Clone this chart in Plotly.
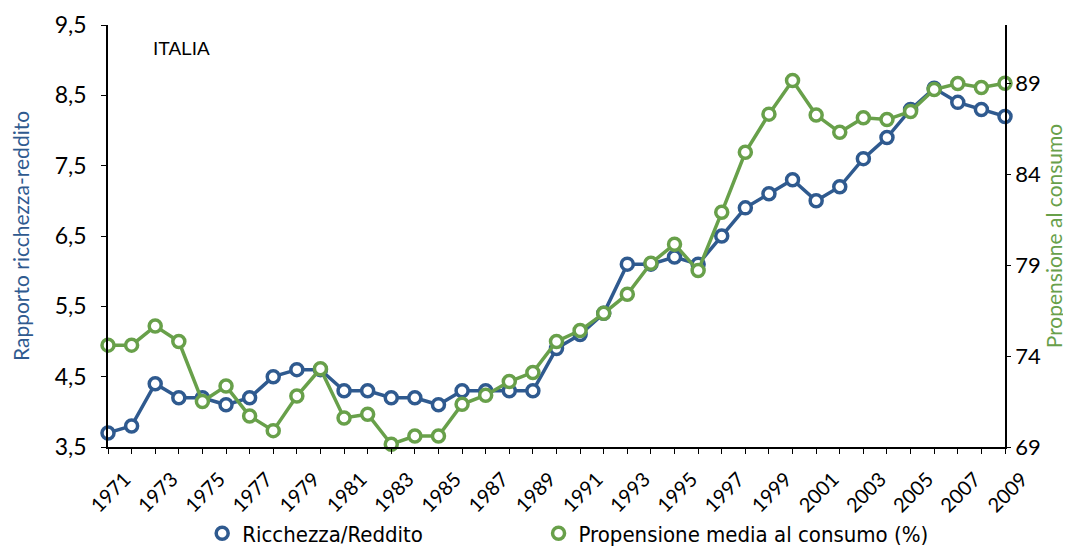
import plotly.graph_objects as go

# Dati
anni = list(range(1971, 2010))

ricchezza_reddito = [3.7, 3.8, 4.4, 4.2, 4.2, 4.1, 4.2, 4.5, 4.6, 4.6,
                     4.3, 4.3, 4.2, 4.2, 4.1, 4.3, 4.3, 4.3, 4.3, 4.9,
                     5.1, 5.4, 6.1, 6.1, 6.2, 6.1, 6.5, 6.9, 7.1, 7.3,
                     7.0, 7.2, 7.6, 7.9, 8.3, 8.6, 8.4, 8.3, 8.2]

propensione = [74.6, 74.6, 75.65, 74.8, 71.5, 72.35, 70.7, 69.9, 71.8, 73.3,
               70.6, 70.8, 69.15, 69.6, 69.6, 71.35, 71.85, 72.6, 73.1, 74.8,
               75.4, 76.35, 77.4, 79.1, 80.15, 78.7, 81.9, 85.2, 87.3, 89.15,
               87.25, 86.3, 87.1, 87.0, 87.45, 88.65, 88.98, 88.76, 89.0]

anni_tick = list(range(1971, 2010, 2))
y1_tick = [3.5, 4.5, 5.5, 6.5, 7.5, 8.5, 9.5]
y2_tick = [69, 74, 79, 84, 89]

BLU = "#2F5A8F"
VERDE = "#68A04A"
FONT = "Lato, 'Open Sans', sans-serif"
FONT_LEG = "'DejaVu Sans Condensed', 'DejaVu Sans', sans-serif"

fig = go.Figure()

serie = [
    ("Ricchezza/Reddito", ricchezza_reddito, BLU, "y", "legend"),
    ("Propensione media al consumo (%)", propensione, VERDE, "y2", "legend2"),
]

for nome, valori, colore, asse, leg in serie:
    marker = dict(symbol="circle", size=12, color="white", line=dict(color=colore, width=3.5))
    fig.add_trace(go.Scatter(
        x=anni, y=valori,
        name=nome,
        mode="lines+markers",
        yaxis=asse,
        line=dict(color=colore, width=3.5),
        marker=marker,
        cliponaxis=False,
        showlegend=False,
    ))
    # voce di legenda solo con il marcatore, come nell'originale
    fig.add_trace(go.Scatter(
        x=[None], y=[None],
        name=nome,
        mode="markers",
        yaxis=asse,
        marker=marker,
        legend=leg,
    ))

fig.add_annotation(
    text="ITALIA", xref="paper", yref="paper", x=0.048, y=0.945,
    xanchor="left", yanchor="middle", showarrow=False,
    font=dict(family="'Liberation Sans', Arial, sans-serif", size=19, color="black"),
)

# la pagina ha 8px di margine: la figura è ridotta di conseguenza
fig.update_layout(
    width=1063, height=543,
    margin=dict(l=100, r=66, t=17, b=104, autoexpand=False),
    paper_bgcolor="white",
    plot_bgcolor="white",
    separators=", ",
    font=dict(family=FONT, size=23, color="black"),
    xaxis=dict(
        range=[1971, 2009],
        tickvals=anni_tick,
        tickangle=-45,
        ticks="outside", ticklen=5, tickcolor="black",
        minor=dict(dtick=1, ticks="outside", ticklen=5, tickcolor="black"),
        ticklabelshift=17, ticklabelstandoff=6,
        showline=True, linecolor="black", linewidth=1.5,
        showgrid=False, zeroline=False,
        tickfont=dict(size=20),
        automargin=False,
    ),
    yaxis=dict(
        range=[3.5, 9.5],
        tickvals=y1_tick,
        tickformat=".1f",
        ticks="outside", ticklen=5, tickcolor="black",
        ticklabelstandoff=10,
        showline=True, linecolor="black", linewidth=1.5,
        showgrid=False, zeroline=False,
        automargin=False,
        title=dict(text="Rapporto ricchezza-reddito", font=dict(color=BLU, size=21), standoff=20),
    ),
    yaxis2=dict(
        range=[69, 92.2],
        tickvals=y2_tick,
        overlaying="y", side="right",
        ticks="outside", ticklen=4, tickcolor="black",
        showline=True, linecolor="black", linewidth=1.5,
        showgrid=False, zeroline=False,
        automargin=False,
        tickfont=dict(size=22),
        title=dict(text="Propensione al consumo", font=dict(color=VERDE, size=21), standoff=0),
    ),
    legend=dict(
        orientation="h", x=0.105, xanchor="left", y=-0.205, yanchor="middle",
        font=dict(family=FONT_LEG, size=22),
        itemwidth=30, bgcolor="rgba(0,0,0,0)",
    ),
    legend2=dict(
        orientation="h", x=0.48, xanchor="left", y=-0.205, yanchor="middle",
        font=dict(family=FONT_LEG, size=22),
        itemwidth=30, bgcolor="rgba(0,0,0,0)",
    ),
)

fig.write_html("out.html")
